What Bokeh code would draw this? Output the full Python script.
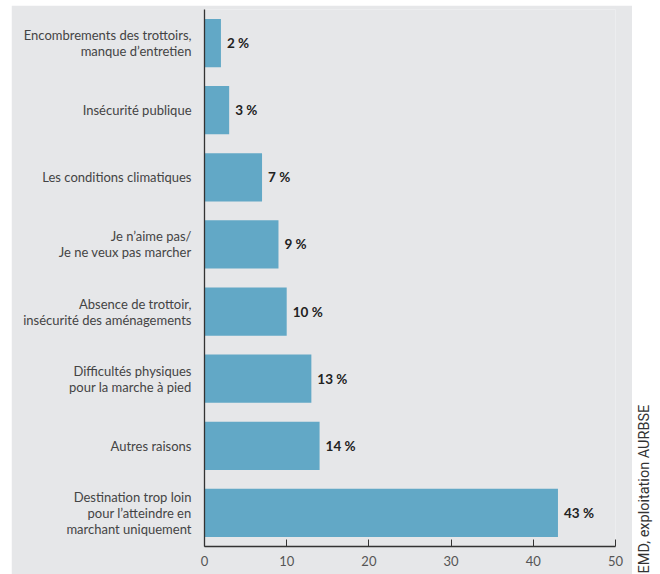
from bokeh.plotting import figure
from bokeh.models import FactorRange, Range1d, Title, ColumnDataSource
from bokeh.layouts import row
from bokeh.embed import file_html
from bokeh.resources import INLINE
from bokeh.core.properties import value

categories = [
    "Encombrements des trottoirs,\nmanque d’entretien",
    "Insécurité publique",
    "Les conditions climatiques",
    "Je n’aime pas/\nJe ne veux pas marcher",
    "Absence de trottoir,\ninsécurité des aménagements",
    "Difficultés physiques\npour la marche à pied",
    "Autres raisons",
    "Destination trop loin\npour l’atteindre en\nmarchant uniquement",
]
values = [2, 3, 7, 9, 10, 13, 14, 43]
value_labels = [f"{v} %" for v in values]
x_ticks = [0, 10, 20, 30, 40, 50]
source_text = "EMD, exploitation AURBSE"

BG = "#e6e7e9"
BAR = "#62a8c6"
FONT = "Lato"

src = ColumnDataSource(dict(cat=categories, val=values, lab=value_labels))

p = figure(
    y_range=FactorRange(factors=list(reversed(categories)), range_padding=0),
    x_range=Range1d(0, 50),
    width=621, height=569,
    min_border_left=193, min_border_right=17, min_border_top=4, min_border_bottom=28,
    output_backend="svg", toolbar_location=None,
    margin=(5, 0, 0, 11),
)
p.background_fill_color = BG
p.border_fill_color = BG
p.outline_line_color = None
p.xgrid.visible = False
p.ygrid.visible = False

p.hbar(y="cat", right="val", left=0, height=0.72, color=BAR, line_color=None, source=src)
p.text(x="val", y="cat", text="lab", source=src, x_offset=6,
       text_font=value(FONT), text_font_style="bold", text_font_size="13.5px",
       text_color="#222222", text_baseline="middle", text_align="left")

p.xaxis.ticker = x_ticks
p.xaxis.axis_line_color = "#333333"
p.xaxis.axis_line_width = 1.3
p.xaxis.major_tick_line_color = "#333333"
p.xaxis.major_tick_in = 7
p.xaxis.major_tick_out = 0
p.xaxis.minor_tick_line_color = None
p.xaxis.major_label_text_font = FONT
p.xaxis.major_label_text_font_size = "13px"
p.xaxis.major_label_text_color = "#555555"
p.xaxis.major_label_standoff = 9

p.yaxis.axis_line_color = "#333333"
p.yaxis.axis_line_width = 1.3
p.yaxis.major_tick_line_color = None
p.yaxis.minor_tick_line_color = None
p.yaxis.major_label_text_font = FONT
p.yaxis.major_label_text_font_size = "13px"
p.yaxis.major_label_text_color = "#444444"
p.yaxis.major_label_standoff = 7
p.yaxis.major_label_text_line_height = 1.0

p2 = figure(width=28, height=574, x_range=(0, 1), y_range=(0, 1),
            output_backend="svg", toolbar_location=None,
            min_border=0)
p2.axis.visible = False
p2.grid.visible = False
p2.outline_line_color = None
p2.background_fill_color = "white"
p2.border_fill_color = "white"
p2.add_layout(Title(text=source_text, align="left", offset=-27, standoff=2,
                    text_font="Roboto", text_font_size="14.5px", text_font_style="normal",
                    text_color="#333333"), "left")

layout = row(p, p2, spacing=0)
open("out.html", "w").write(file_html(layout, INLINE))
